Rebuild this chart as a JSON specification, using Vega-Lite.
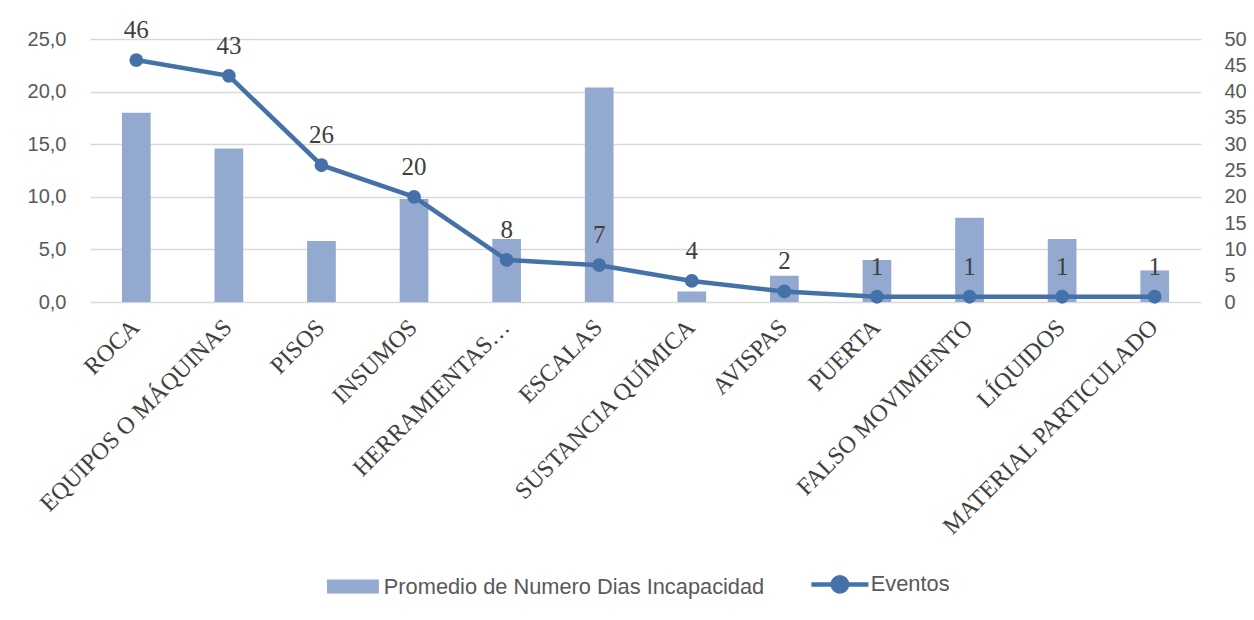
{
  "$schema": "https://vega.github.io/schema/vega-lite/v6.json",
  "width": 1111,
  "height": 263,
  "padding": {"left": 27, "top": 18, "right": 4, "bottom": 5},
  "background": "white",
  "config": {
    "locale": {"number": {"decimal": ",", "thousands": ".", "grouping": [3], "currency": ["", " €"]}},
    "view": {"stroke": null},
    "axis": {"labelFont": "Liberation Sans", "labelFontSize": 20, "labelColor": "#595959", "domain": false, "ticks": false, "gridColor": "#D9D9D9", "gridWidth": 1.5},
    "legend": {"layout": {"bottom": {"anchor": "middle"}}}
  },
  "data": {"values": [
    {"cat": "ROCA", "dias": 18.0, "eventos": 46},
    {"cat": "EQUIPOS O MÁQUINAS", "dias": 14.6, "eventos": 43},
    {"cat": "PISOS", "dias": 5.8, "eventos": 26},
    {"cat": "INSUMOS", "dias": 9.8, "eventos": 20},
    {"cat": "HERRAMIENTAS…", "dias": 6.0, "eventos": 8},
    {"cat": "ESCALAS", "dias": 20.4, "eventos": 7},
    {"cat": "SUSTANCIA QUÍMICA", "dias": 1.0, "eventos": 4},
    {"cat": "AVISPAS", "dias": 2.5, "eventos": 2},
    {"cat": "PUERTA", "dias": 4.0, "eventos": 1},
    {"cat": "FALSO MOVIMIENTO", "dias": 8.0, "eventos": 1},
    {"cat": "LÍQUIDOS", "dias": 6.0, "eventos": 1},
    {"cat": "MATERIAL PARTICULADO", "dias": 3.0, "eventos": 1}
  ]},
  "encoding": {
    "x": {"field": "cat", "type": "nominal", "sort": null, "title": null,
      "scale": {"paddingInner": 0.69, "paddingOuter": 0.345},
      "axis": {"labelAngle": -45, "labelFont": "Liberation Serif", "labelFontSize": 24, "labelColor": "#404040", "labelPadding": 13, "labelOffset": -9, "labelLimit": 500, "grid": false}}
  },
  "layer": [
    {
      "mark": {"type": "bar"},
      "encoding": {
        "y": {"field": "dias", "type": "quantitative", "title": null,
          "scale": {"domain": [0, 25], "nice": false},
          "axis": {"values": [0, 5, 10, 15, 20, 25], "format": ".1f", "labelPadding": 24, "grid": true}},
        "color": {"datum": "Promedio de Numero Dias Incapacidad", "type": "nominal",
          "scale": {"domain": ["Promedio de Numero Dias Incapacidad", "Eventos"], "range": ["#94A9CF", "#4472A8"]},
          "legend": {"title": null, "orient": "bottom", "direction": "horizontal", "symbolSize": 3249, "labelFont": "Liberation Sans", "labelFontSize": 21.8, "labelColor": "#595959", "offset": 33, "labelOffset": 20, "columnPadding": 37, "labelLimit": 600,
            "encode": {"symbols": {"update": {
              "shape": {"signal": "datum.value === 'Eventos' ? 'M-1,0L1,0M-0.25,0A0.25,0.25,0,1,0,0.25,0A0.25,0.25,0,1,0,-0.25,0' : 'M-0.91,-0.245H0.91V0.245H-0.91Z'"},
              "fill": {"signal": "datum.value === 'Eventos' ? '#4472A8' : '#94A9CF'"},
              "stroke": {"signal": "datum.value === 'Eventos' ? '#4472A8' : '#94A9CF'"},
              "strokeWidth": {"signal": "datum.value === 'Eventos' ? 4.5 : 0"},
              "opacity": {"value": 1}
            }}}}}
      }
    },
    {
      "layer": [
        {
          "mark": {"type": "line", "strokeWidth": 4.5},
          "encoding": {"color": {"datum": "Eventos", "type": "nominal"}}
        },
        {
          "mark": {"type": "point", "filled": true, "size": 190, "opacity": 1},
          "encoding": {"color": {"datum": "Eventos", "type": "nominal"}}
        },
        {
          "mark": {"type": "text", "baseline": "alphabetic", "dy": -22, "font": "Liberation Serif", "fontSize": 25, "color": "#404040"},
          "encoding": {"text": {"field": "eventos", "type": "quantitative"}}
        }
      ],
      "encoding": {
        "y": {"field": "eventos", "type": "quantitative", "title": null,
          "scale": {"domain": [0, 50], "nice": false},
          "axis": {"orient": "right", "values": [0, 5, 10, 15, 20, 25, 30, 35, 40, 45, 50], "labelPadding": 23, "grid": false}}
      }
    }
  ],
  "resolve": {"scale": {"y": "independent"}}
}
